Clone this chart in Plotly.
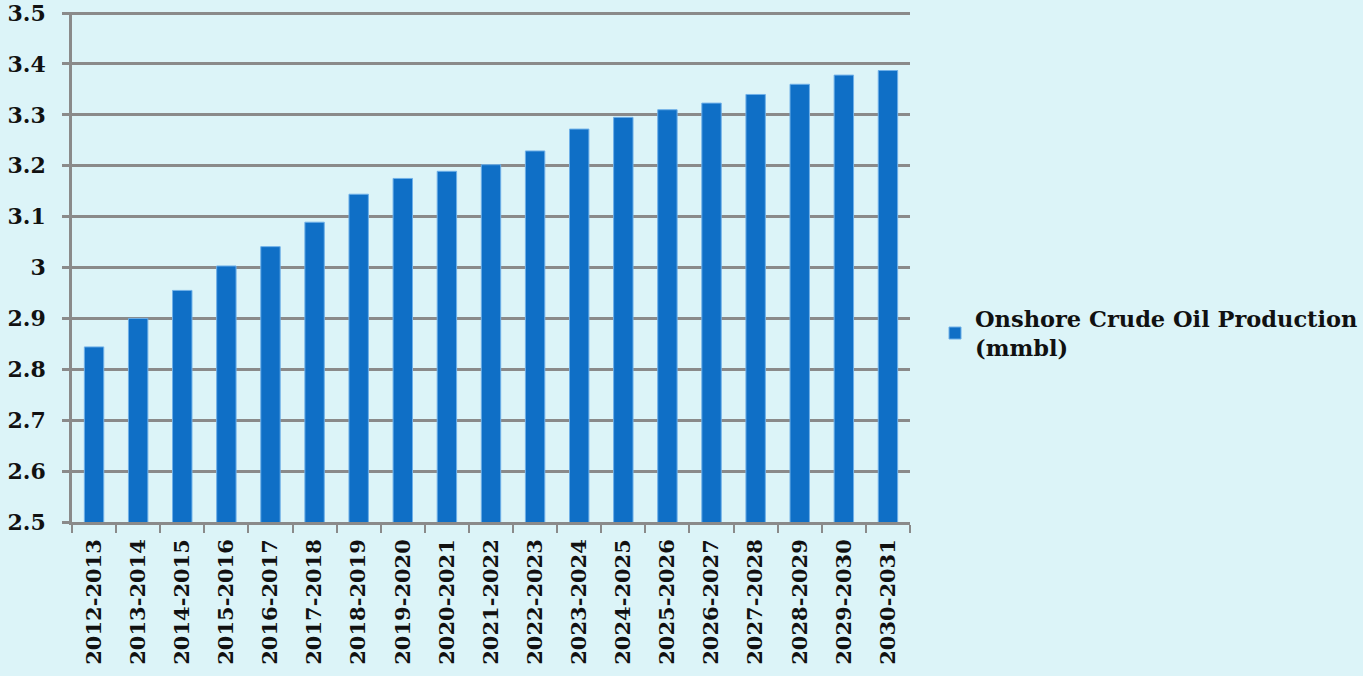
import plotly.graph_objects as go

# Fiscal years and onshore crude oil production (mmbl)
years = ["2012-2013", "2013-2014", "2014-2015", "2015-2016", "2016-2017",
         "2017-2018", "2018-2019", "2019-2020", "2020-2021", "2021-2022",
         "2022-2023", "2023-2024", "2024-2025", "2025-2026", "2026-2027",
         "2027-2028", "2028-2029", "2029-2030", "2030-2031"]
production = [2.844, 2.900, 2.955, 3.003, 3.041, 3.089, 3.144, 3.175, 3.189, 3.202,
              3.229, 3.272, 3.295, 3.310, 3.323, 3.340, 3.360, 3.378, 3.387]

y_ticks = [2.5, 2.6, 2.7, 2.8, 2.9, 3.0, 3.1, 3.2, 3.3, 3.4, 3.5]
y_tick_text = ["2.5", "2.6", "2.7", "2.8", "2.9", "3", "3.1", "3.2", "3.3", "3.4", "3.5"]

series_name = "Onshore Crude Oil Production<br>(mmbl)"

bg = "#DCF4F8"
grid = "#8A8A8A"
serif = "DejaVu Serif"

fig = go.Figure(
    go.Bar(
        x=years,
        y=production,
        name=series_name,
        width=0.44,
        marker=dict(color="#0F6FC6", line=dict(color="#6FB0E8", width=1)),
        showlegend=True,
    )
)

fig.update_layout(
    width=1363,
    height=676,
    paper_bgcolor=bg,
    plot_bgcolor=bg,
    margin=dict(l=72, r=453, t=12, b=154, autoexpand=False),
    bargap=0.56,
    font=dict(family=serif, color="#111111"),
    legend=dict(
        xref="container", yref="container",
        x=0.686, y=0.507, xanchor="left", yanchor="middle",
        bgcolor="rgba(0,0,0,0)",
        font=dict(family=serif, size=22.5, color="#111111", weight="bold"),
    ),
)

fig.update_yaxes(
    range=[2.5, 3.502],
    tickvals=y_ticks,
    ticktext=y_tick_text,
    automargin=False,
    ticklabeloverflow="allow",
    showgrid=True,
    gridcolor=grid,
    gridwidth=2.5,
    showline=True,
    linecolor=grid,
    linewidth=2.5,
    ticks="outside",
    ticklen=7,
    tickwidth=2.5,
    tickcolor=grid,
    ticklabelstandoff=12,
    tickfont=dict(family=serif, size=22, color="#111111", weight="bold"),
    zeroline=False,
)

fig.update_xaxes(
    type="category",
    tickangle=-90,
    automargin=False,
    showline=True,
    linecolor=grid,
    linewidth=2.5,
    ticks="outside",
    tickson="boundaries",
    ticklen=8,
    tickwidth=2,
    tickcolor=grid,
    ticklabelstandoff=6,
    showgrid=False,
    tickfont=dict(family=serif, size=21, color="#111111", weight="bold"),
)

fig.write_html("out.html")
